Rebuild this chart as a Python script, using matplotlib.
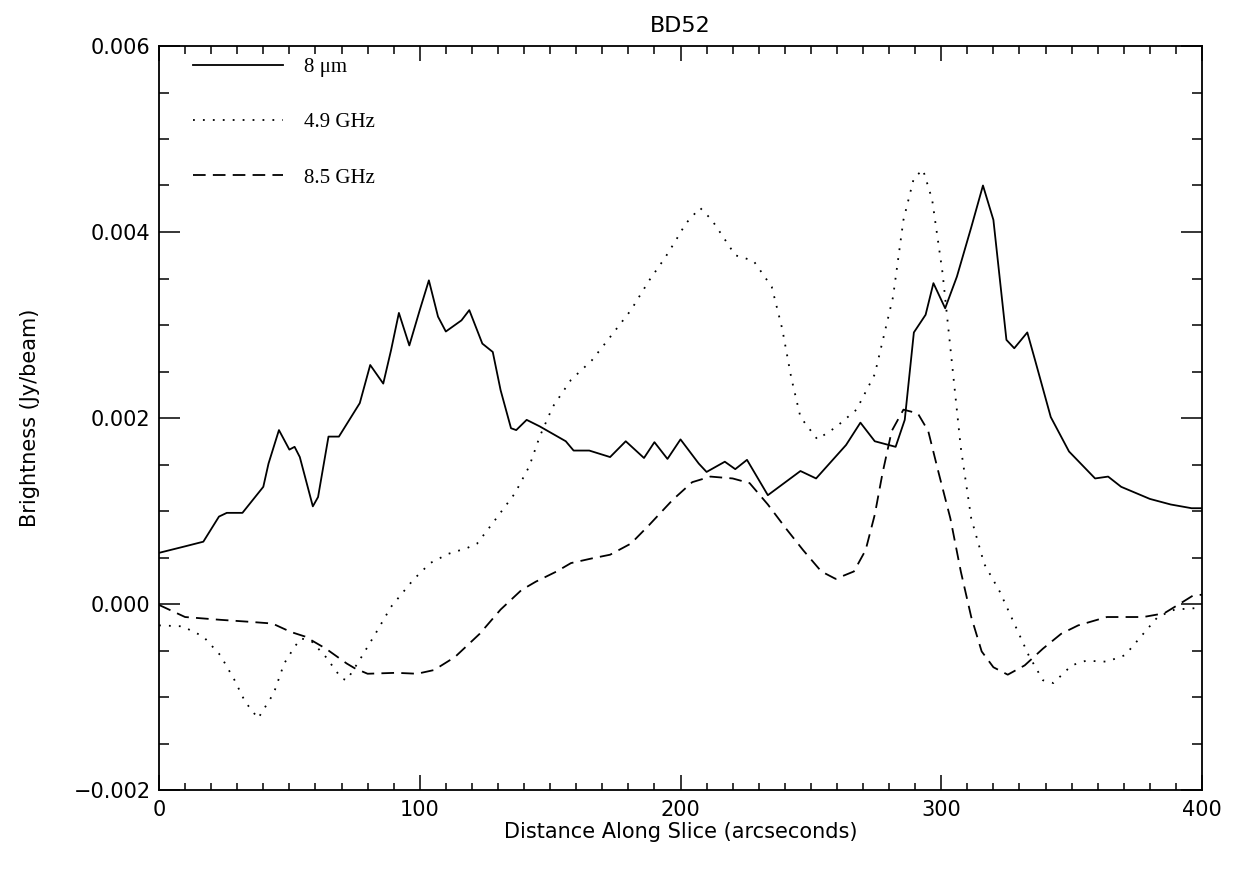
import matplotlib
matplotlib.use("Agg")
import matplotlib.pyplot as plt
from matplotlib.ticker import MultipleLocator, FuncFormatter

# Slice profiles across BD52 (x in arcsec, y in mJy/beam, converted below)
x_8um = [0, 10, 17, 23, 26, 32, 40, 42, 46, 50,
         52, 54, 59, 61, 65, 69, 73, 77, 81, 86,
         89, 92, 96, 100, 103.5, 107, 110, 116, 119, 124,
         128, 131, 135, 137, 141, 146, 156, 159, 165, 173,
         179, 186, 190, 195, 200, 207, 210, 217, 221, 225.5,
         233.5, 246, 252, 263.5, 269, 274.5, 282.5, 286, 289.5, 294,
         297, 301.5, 306, 311.5, 316, 320, 325, 328, 333, 336,
         342, 349, 359, 364, 369, 380, 388, 396, 400]
y_8um = [0.55, 0.62, 0.67, 0.94, 0.98, 0.98, 1.26, 1.51, 1.87, 1.66,
         1.69, 1.58, 1.05, 1.15, 1.80, 1.80, 1.98, 2.16, 2.57, 2.37,
         2.73, 3.13, 2.78, 3.16, 3.48, 3.09, 2.93, 3.05, 3.16, 2.80,
         2.71, 2.30, 1.89, 1.87, 1.98, 1.91, 1.75, 1.65, 1.65, 1.58,
         1.75, 1.57, 1.74, 1.56, 1.77, 1.51, 1.42, 1.53, 1.45, 1.55,
         1.17, 1.43, 1.35, 1.71, 1.95, 1.75, 1.69, 1.98, 2.92, 3.11,
         3.45, 3.18, 3.52, 4.05, 4.50, 4.13, 2.84, 2.75, 2.92, 2.62,
         2.01, 1.64, 1.35, 1.37, 1.26, 1.13, 1.07, 1.03, 1.03]

x_49 = [0, 9, 17, 23.5, 29, 33, 38, 44, 48, 52,
        54.5, 58.5, 64, 70, 72, 77, 83, 89, 97.5, 104,
        111, 118, 122, 128, 136.5, 142, 146, 151, 158, 166,
        173, 181, 188, 194, 198, 202, 207.5, 212, 217, 221,
        228, 235, 239, 242.5, 246, 252.5, 259.5, 267.5, 274.5, 281.5,
        285.5, 289.5, 293, 296.5, 300.5, 304, 307.5, 311.5, 316.5, 322.5,
        328, 333.5, 339, 343, 350, 355.5, 363.5, 370.5, 377.5, 383,
        389.5, 400]
y_49 = [-0.23, -0.24, -0.35, -0.55, -0.82, -1.05, -1.23, -0.96, -0.64, -0.46,
        -0.37, -0.40, -0.57, -0.80, -0.82, -0.60, -0.32, -0.03, 0.26, 0.44,
        0.54, 0.60, 0.65, 0.87, 1.19, 1.48, 1.80, 2.12, 2.41, 2.62,
        2.87, 3.16, 3.48, 3.72, 3.90, 4.09, 4.26, 4.13, 3.92, 3.75,
        3.69, 3.41, 2.96, 2.43, 2.01, 1.77, 1.90, 2.09, 2.47, 3.30,
        4.13, 4.58, 4.67, 4.35, 3.56, 2.62, 1.68, 0.92, 0.43, 0.13,
        -0.21, -0.55, -0.82, -0.85, -0.66, -0.61, -0.62, -0.55, -0.32, -0.14,
        -0.06, -0.04]

x_85 = [0, 10, 23.5, 34, 43.5, 50.5, 56, 64, 72, 75,
        80, 91, 99, 105.5, 113.5, 123, 131, 139, 144.5, 152.5,
        158, 166, 173, 181, 188, 197, 204.5, 211.5, 220, 226.5,
        233.5, 240.5, 247, 254, 259.5, 266.5, 271, 274.5, 277.5, 281,
        285.5, 291, 295, 299, 303.5, 307.5, 311.5, 315.5, 320, 325.5,
        332, 339, 346, 352.5, 363.5, 377.5, 385.5, 392.5, 396.5, 400]
y_85 = [-0.01, -0.14, -0.17, -0.19, -0.21, -0.30, -0.35, -0.48, -0.64, -0.69,
        -0.75, -0.74, -0.75, -0.71, -0.57, -0.32, -0.06, 0.15, 0.24, 0.35,
        0.44, 0.49, 0.53, 0.65, 0.85, 1.12, 1.31, 1.37, 1.35, 1.30,
        1.07, 0.81, 0.58, 0.35, 0.27, 0.35, 0.58, 0.96, 1.41, 1.86,
        2.09, 2.05, 1.86, 1.41, 0.92, 0.35, -0.14, -0.51, -0.68, -0.76,
        -0.66, -0.48, -0.32, -0.23, -0.14, -0.14, -0.10, 0.02, 0.09, 0.10]

labels = ["8 \u03bcm", "4.9 GHz", "8.5 GHz"]


def to_jy(vals):
    return [v * 1e-3 for v in vals]


fig = plt.figure(figsize=(12.41, 8.73), dpi=100)
ax = fig.add_axes([159 / 1241, 83 / 873, 1043 / 1241, 744 / 873])

lw = 1.3
ax.plot(x_8um, to_jy(y_8um), color="black", lw=lw, label=labels[0])
ax.plot(x_49, to_jy(y_49), color="black", lw=lw, linestyle=(0, (1, 4.5)), label=labels[1])
ax.plot(x_85, to_jy(y_85), color="black", lw=lw, linestyle=(0, (7, 4)), label=labels[2])

ax.set_xlim(0, 400)
ax.set_ylim(-0.002, 0.006)
ax.xaxis.set_major_locator(MultipleLocator(100))
ax.xaxis.set_minor_locator(MultipleLocator(10))
ax.yaxis.set_major_locator(MultipleLocator(0.002))
ax.yaxis.set_minor_locator(MultipleLocator(0.0005))
ax.yaxis.set_major_formatter(FuncFormatter(lambda v, p: f"{v:.3f}".replace("-", "\u2212")))
ax.xaxis.set_major_formatter(FuncFormatter(lambda v, p: f"{v:.0f}"))

ax.tick_params(axis="x", which="major", direction="in", length=10.8, width=1.1,
               top=True, labelsize=15, pad=7)
ax.tick_params(axis="x", which="minor", direction="in", length=5.4, width=1.1, top=True)
ax.tick_params(axis="y", which="major", direction="in", length=15, width=1.1,
               right=True, labelsize=15, pad=6)
ax.tick_params(axis="y", which="minor", direction="in", length=7.5, width=1.1, right=True)
for s in ax.spines.values():
    s.set_linewidth(1.3)

ax.set_xlabel("Distance Along Slice (arcseconds)", fontsize=15, labelpad=2)
ax.set_ylabel("Brightness (Jy/beam)", fontsize=15, labelpad=24)
ax.set_title("BD52", fontsize=16, pad=10)

leg = ax.legend(loc="upper left", frameon=False, handlelength=4.3, handletextpad=1.0,
                labelspacing=1.72, borderaxespad=0,
                bbox_to_anchor=(26 / 1043, 1 - 3 / 744),
                prop={"family": "Liberation Serif", "size": 15})

fig.savefig("out.png", dpi=100)
